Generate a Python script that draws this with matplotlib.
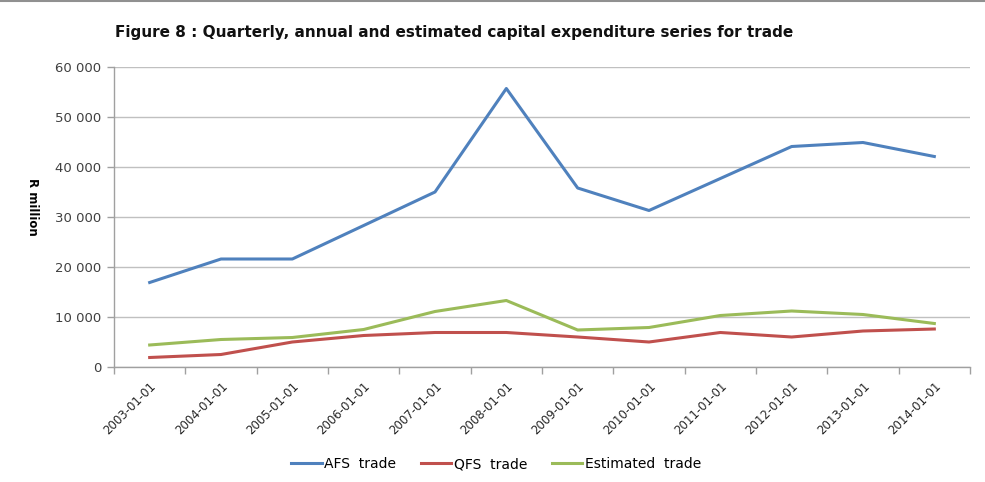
import matplotlib
matplotlib.use("Agg")
import matplotlib.pyplot as plt
from matplotlib.ticker import FuncFormatter, FixedLocator
from matplotlib.lines import Line2D

categories = ["2003-01-01", "2004-01-01", "2005-01-01", "2006-01-01", "2007-01-01", "2008-01-01",
              "2009-01-01", "2010-01-01", "2011-01-01", "2012-01-01", "2013-01-01", "2014-01-01"]
afs_trade = [16900, 21600, 21600, 28300, 35000, 55700, 35800, 31300, 37700, 44100, 44900, 42100]
qfs_trade = [1900, 2500, 5000, 6300, 6900, 6900, 6000, 5000, 6900, 6000, 7200, 7600]
estimated_trade = [4400, 5500, 5900, 7500, 11100, 13300, 7400, 7900, 10300, 11200, 10500, 8700]
y_ticks = [0, 10000, 20000, 30000, 40000, 50000, 60000]

W, H = 985, 482
fig = plt.figure(figsize=(W / 100, H / 100), dpi=100)
fig.patch.set_facecolor("white")
ax = fig.add_axes([114 / W, 1 - 367 / H, (970 - 114) / W, (367 - 67) / H])

x = list(range(len(categories)))
c_blue, c_red, c_green = "#4f81bd", "#c0504d", "#9bbb59"
ax.plot(x, afs_trade, color=c_blue, lw=2.2, solid_joinstyle="round", label="AFS  trade")
ax.plot(x, qfs_trade, color=c_red, lw=2.2, solid_joinstyle="round", label="QFS  trade")
ax.plot(x, estimated_trade, color=c_green, lw=2.2, solid_joinstyle="round", label="Estimated  trade")

ax.set_xlim(-0.5, len(categories) - 0.5)
ax.set_ylim(0, 60000)
ax.set_yticks(y_ticks)
ax.yaxis.set_major_formatter(FuncFormatter(lambda v, p: f"{int(v):,}".replace(",", " ")))
ax.yaxis.grid(True, color="#c0c0c0", lw=1)
ax.set_axisbelow(True)

ax.set_xticks(x)
ax.set_xticklabels(categories, rotation=45, ha="right", rotation_mode="anchor")
ax.xaxis.set_minor_locator(FixedLocator([i - 0.5 for i in range(len(categories) + 1)]))
ax.tick_params(axis="x", which="major", length=0, pad=9, labelsize=8.5, labelcolor="#262626")
ax.tick_params(axis="x", which="minor", length=5, color="#a0a0a0", width=1)
ax.tick_params(axis="y", which="major", length=5, color="#a0a0a0", width=1, labelsize=9.5,
               labelcolor="#404040", pad=4)

for s in ["top", "right"]:
    ax.spines[s].set_visible(False)
for s in ["left", "bottom"]:
    ax.spines[s].set_color("#a0a0a0")
    ax.spines[s].set_linewidth(1)

fig.text(115 / W, 1 - 33 / H, "Figure 8 : Quarterly, annual and estimated capital expenditure series for trade",
         fontsize=11, fontweight="bold", va="center", ha="left", color="#111111")
fig.text(32 / W, 1 - 207 / H, "R million", rotation=-90, fontsize=8.5, fontweight="bold",
         va="center", ha="center")

handles = [Line2D([], [], color=c, lw=2.2) for c in (c_blue, c_red, c_green)]
fig.legend(handles, ["AFS  trade", "QFS  trade", "Estimated  trade"], loc="center",
           bbox_to_anchor=(496 / W, 1 - 464 / H), ncol=3, frameon=False, fontsize=10,
           handlelength=2.2, handletextpad=0.15, columnspacing=1.8)

fig.add_artist(Line2D([0, 1], [1 - 1 / H, 1 - 1 / H], transform=fig.transFigure, color="#909090", lw=1.5))

fig.savefig("out.png", dpi=100)
